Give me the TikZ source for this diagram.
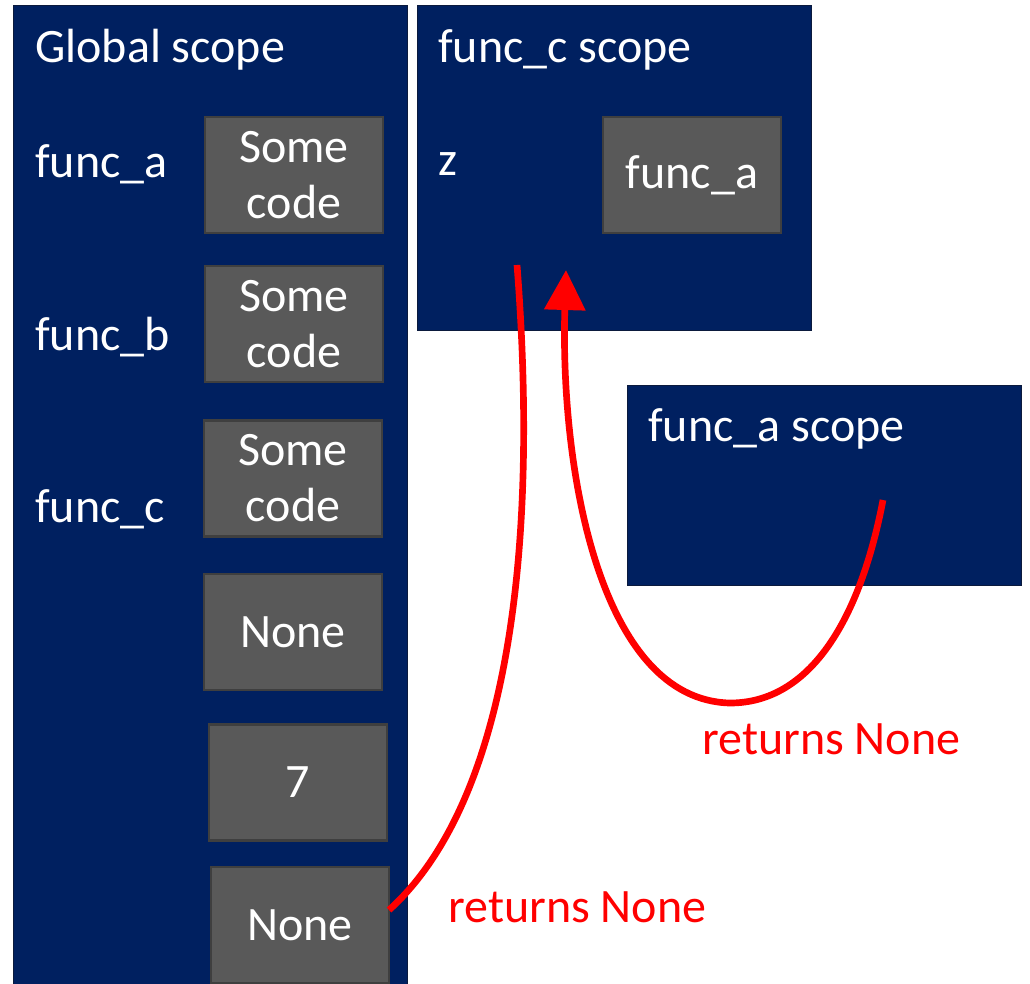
\documentclass[tikz,border=0pt]{standalone}
\usepackage{fontspec}
\setmainfont{Carlito}
\usetikzlibrary{arrows.meta}
\definecolor{scopeblue}{HTML}{002060}
\definecolor{scopeedge}{HTML}{0B1A3D}
\definecolor{boxgray}{HTML}{595959}
\definecolor{boxedge}{HTML}{3F3F3F}
\begin{document}
\begin{tikzpicture}[x=0.75pt,y=-0.75pt,
    every node/.style={font=\fontsize{36}{42}\selectfont},
    scope box/.style={draw=scopeedge,fill=scopeblue,line width=1pt,anchor=north west,inner sep=0pt},
    value box/.style={draw=boxedge,fill=boxgray,line width=2pt,minimum width=133.5pt,minimum height=87pt,inner sep=0pt,align=center,text=white},
    name label/.style={anchor=base west,text=white,inner sep=0pt},
    ret label/.style={anchor=base west,text=red,inner sep=0pt},
    ret line/.style={draw=red,line width=5pt}]
    \useasboundingbox (0,0) rectangle (1030,983);
    \clip (0,0) rectangle (1030,983);

    % scopes
    \node[scope box,minimum width=295.5pt,minimum height=738.75pt] (global) at (13,5) {};
    \node[scope box,minimum width=295.5pt,minimum height=243.75pt] (cscope) at (417,5) {};
    \node[scope box,minimum width=295.5pt,minimum height=150pt] (ascope) at (627,385) {};

    \node[name label] (gtitle) at (35,62) {Global scope};
    \node[name label] (ctitle) at (438,62) {func\_c scope};
    \node[name label] (atitle) at (648,441) {func\_a scope};

    % global names
    \node[name label] (na) at (35,177) {func\_a};
    \node[name label] (nb) at (35,350) {func\_b};
    \node[name label] (nc) at (35,522) {func\_c};
    \node[name label] (nz) at (438,175) {z};

    % values
    \node[value box] (code1) at (294,175) {Some\\code};
    \node[value box] (code2) at (294,324) {Some\\code};
    \node[value box] (code3) at (293,478.5) {Some\\code};
    \node[value box] (none1) at (293,632) {None};
    \node[value box] (seven) at (298,782.5) {7};
    \node[value box] (none2) at (300,925) {None};
    \node[value box] (zval) at (692,175) {func\_a};

    % returns
    \coordinate (retc) at (389,910);
    \coordinate (topc) at (517,265);
    \coordinate (reta) at (883,500);
    \coordinate (low) at (730,703);
    \coordinate (intoc) at (566,270);

    \path[ret line] (retc) .. controls (505,805) and (540,560) .. (topc);
    \path[ret line,-{Triangle[length=30pt,width=30pt]}] (reta) .. controls (860,620) and (810,703) .. (low)
        .. controls (600,700) and (560,470) .. (intoc);

    \node[ret label] (reta label) at (702,754) {returns None};
    \node[ret label] (retc label) at (448,922) {returns None};
\end{tikzpicture}
\end{document}
